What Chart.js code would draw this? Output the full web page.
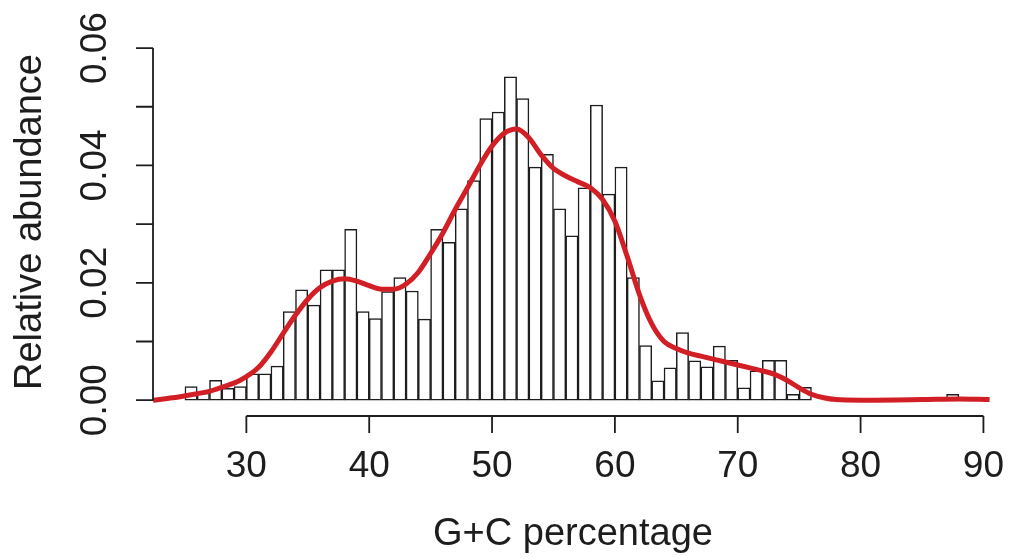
<!DOCTYPE html>
<html>
<head>
<meta charset="utf-8">
<script src="https://cdn.jsdelivr.net/npm/chart.js@4.4.1/dist/chart.umd.min.js"></script>
<style>
  html, body { margin: 0; padding: 0; background: #fff; overflow: hidden; }
  #wrap { width: 1011px; height: 559px; }
</style>
</head>
<body>
<div id="wrap"><canvas id="gcChart"></canvas></div>
<script>
// Histogram bins (left edge, width 1) and relative abundance per bin
const binStarts = [25, 26, 27, 28, 29, 30, 31, 32, 33, 34, 35, 36, 37, 38, 39, 40, 41, 42, 43, 44,
    45, 46, 47, 48, 49, 50, 51, 52, 53, 54, 55, 56, 57, 58, 59, 60, 61, 62, 63, 64,
    65, 66, 67, 68, 69, 70, 71, 72, 73, 74, 75, 76, 77, 78, 79, 80, 81, 82, 83, 84,
    85, 86, 87];
const binValues = [0.0023, 0.0012, 0.0034, 0.0020, 0.0023, 0.0045, 0.0045, 0.0058, 0.0151, 0.0188,
    0.0162, 0.0222, 0.0222, 0.0291, 0.0151, 0.0139, 0.0185, 0.0209, 0.0186, 0.0138,
    0.0291, 0.0269, 0.0326, 0.0374, 0.0480, 0.0491, 0.0551, 0.0514, 0.0397, 0.0419,
    0.0326, 0.0280, 0.0362, 0.0503, 0.0351, 0.0397, 0.0209, 0.0093, 0.0033, 0.0055,
    0.0115, 0.0067, 0.0057, 0.0092, 0.0068, 0.0021, 0.0050, 0.0068, 0.0068, 0.0010,
    0.0022, 0, 0, 0, 0, 0, 0, 0, 0, 0,
    0, 0, 0.0010];

// Density curve
const curveX = [22.4, 24, 26, 27, 28, 29.5, 31, 32, 33, 34, 35, 36, 37, 38, 39, 40, 41, 42, 43, 44,
    45, 46, 47, 48, 49, 50, 51, 52, 53, 54, 55, 56, 57, 58, 59, 60, 61, 62, 63, 64,
    65, 66, 67, 68, 69, 70, 71, 72, 73, 74, 75, 76, 77, 78, 80, 85, 88, 90.5];
const curveY = [0.0000, 0.0004, 0.0011, 0.0015, 0.0022, 0.0034, 0.0056, 0.0082, 0.0114, 0.0145,
    0.0172, 0.0192, 0.0203, 0.0207, 0.0203, 0.0195, 0.0189, 0.0189, 0.0198, 0.0218,
    0.0250, 0.0285, 0.0325, 0.0362, 0.0400, 0.0433, 0.0455, 0.0462, 0.0447, 0.0418,
    0.0395, 0.0382, 0.0372, 0.0362, 0.0342, 0.0305, 0.0245, 0.0180, 0.0130, 0.0100,
    0.0088, 0.0080, 0.0075, 0.0070, 0.0065, 0.0060, 0.0055, 0.0050, 0.0044, 0.0034,
    0.0021, 0.0010, 0.0004, 0.0001, 0.0000, 0.0001, 0.0002, 0.0001];

const xTicks = [30, 40, 50, 60, 70, 80, 90];
const yTicks = [0, 0.01, 0.02, 0.03, 0.04, 0.05, 0.06];
const yTickLabels = ["0.00", "", "0.02", "", "0.04", "", "0.06"];

const xTitle = "G+C percentage";
const yTitle = "Relative abundance";

const tickFont = "37px 'Liberation Sans', Arial, sans-serif";
const titleFont = "38px 'Liberation Sans', Arial, sans-serif";
const inkColor = "#1d1d1d";

// R style axes: lines only span the tick range, labels parallel to axis
const rAxes = {
    id: "rAxes",
    afterDraw(chart) {
        const ctx = chart.ctx;
        const area = chart.chartArea;
        const xs = chart.scales.x;
        const ys = chart.scales.y;
        ctx.save();
        ctx.strokeStyle = inkColor;
        ctx.fillStyle = inkColor;
        ctx.lineWidth = 1.8;

        // x axis
        const xBase = area.bottom;
        ctx.beginPath();
        ctx.moveTo(xs.getPixelForValue(xTicks[0]), xBase);
        ctx.lineTo(xs.getPixelForValue(xTicks[xTicks.length - 1]), xBase);
        xTicks.forEach(v => {
            const px = xs.getPixelForValue(v);
            ctx.moveTo(px, xBase);
            ctx.lineTo(px, xBase + 17);
        });
        ctx.stroke();
        ctx.font = tickFont;
        ctx.textAlign = "center";
        ctx.textBaseline = "middle";
        xTicks.forEach(v => {
            ctx.fillText(String(v), xs.getPixelForValue(v), 467);
        });

        // y axis
        const yBase = area.left;
        ctx.beginPath();
        ctx.moveTo(yBase, ys.getPixelForValue(yTicks[0]));
        ctx.lineTo(yBase, ys.getPixelForValue(yTicks[yTicks.length - 1]));
        yTicks.forEach(v => {
            const py = ys.getPixelForValue(v);
            ctx.moveTo(yBase, py);
            ctx.lineTo(yBase - 17, py);
        });
        ctx.stroke();
        yTicks.forEach((v, i) => {
            if (!yTickLabels[i]) return;
            ctx.save();
            ctx.translate(96, ys.getPixelForValue(v));
            ctx.rotate(-Math.PI / 2);
            ctx.fillText(yTickLabels[i], 0, 0);
            ctx.restore();
        });

        // titles
        ctx.font = titleFont;
        ctx.fillText(xTitle, 573, 535);
        ctx.save();
        ctx.translate(31, 222);
        ctx.rotate(-Math.PI / 2);
        ctx.fillText(yTitle, 0, 0);
        ctx.restore();
        ctx.restore();
    }
};

const whiteBg = {
    id: "whiteBg",
    beforeDraw(chart) {
        const ctx = chart.ctx;
        ctx.save();
        ctx.fillStyle = "#ffffff";
        ctx.fillRect(0, 0, chart.width, chart.height);
        ctx.restore();
    }
};

const gcChart = new Chart(document.getElementById("gcChart"), {
    type: "bar",
    data: {
        datasets: [
            {
                type: "line",
                label: "density",
                data: curveX.map((x, i) => ({ x: x, y: curveY[i] })),
                borderColor: "#d21f26",
                borderWidth: 5,
                pointRadius: 0,
                fill: false,
                cubicInterpolationMode: "monotone",
                order: 0,
            },
            {
                type: "bar",
                label: "histogram",
                data: binStarts.map((b, i) => ({ x: b + 0.5, y: binValues[i] })),
                backgroundColor: "#ffffff",
                borderColor: inkColor,
                borderWidth: 1.5,
                borderSkipped: false,
                barPercentage: 1.0,
                categoryPercentage: 1.0,
                grouped: false,
                order: 1,
            }
        ]
    },
    options: {
        responsive: true,
        maintainAspectRatio: false,
        animation: false,
        devicePixelRatio: 1,
        layout: {
            padding: { left: 153, top: 34, right: 3, bottom: 143 }
        },
        plugins: {
            legend: { display: false },
            tooltip: { enabled: false },
            title: { display: false }
        },
        scales: {
            x: {
                type: "linear",
                offset: false,
                min: 22.4,
                max: 92.0,
                display: false,
            },
            y: {
                type: "linear",
                min: -0.0027,
                max: 0.0624,
                display: false,
            }
        }
    },
    plugins: [whiteBg, rAxes]
});
</script>
</body>
</html>
